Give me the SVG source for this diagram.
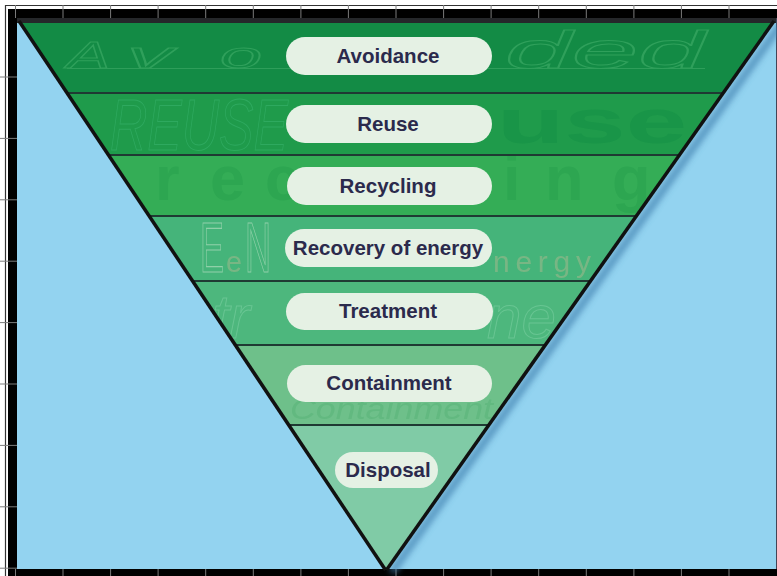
<svg xmlns="http://www.w3.org/2000/svg" width="777" height="576" viewBox="0 0 777 576">
<style>
.pill{fill:#E5F1E4}
.lbl{font-family:"Liberation Sans",Arial,sans-serif;font-weight:bold;font-size:20.5px;fill:#2B2A4C;text-anchor:middle}
.div{stroke:#1F3A33;stroke-width:2}
.wm{font-family:"Liberation Sans",Arial,sans-serif}
.tick{stroke:#7A7A7A;stroke-width:1}
</style>
<defs>
<clipPath id="tri"><polygon points="19,22 774,22 386,570"/></clipPath>
<filter id="blur" x="-20%" y="-20%" width="140%" height="140%"><feGaussianBlur stdDeviation="3"/></filter>
<filter id="soft" x="-10%" y="-30%" width="120%" height="160%"><feGaussianBlur stdDeviation="0.7"/></filter>
</defs>
<rect width="777" height="576" fill="#FFFFFF"/>
<g id="frame">
<line x1="5" y1="5.5" x2="777" y2="5.5" stroke="#333" stroke-width="1.2"/>
<line x1="5.5" y1="5" x2="5.5" y2="576" stroke="#333" stroke-width="1.2"/>
<rect x="8" y="9" width="769" height="567" fill="#000"/>
<rect x="17" y="18" width="759" height="551" fill="#93D3F0"/>
<line x1="776.5" y1="18" x2="776.5" y2="569" stroke="#445" stroke-width="1"/>
<g class="tick">
<line x1="15.5" y1="5" x2="15.5" y2="18"/><line x1="63" y1="5" x2="63" y2="18"/><line x1="110.6" y1="5" x2="110.6" y2="18"/><line x1="158.1" y1="5" x2="158.1" y2="18"/><line x1="205.7" y1="5" x2="205.7" y2="18"/><line x1="253.3" y1="5" x2="253.3" y2="18"/><line x1="300.9" y1="5" x2="300.9" y2="18"/><line x1="348.4" y1="5" x2="348.4" y2="18"/><line x1="396" y1="5" x2="396" y2="18"/><line x1="443.6" y1="5" x2="443.6" y2="18"/><line x1="491.1" y1="5" x2="491.1" y2="18"/><line x1="538.7" y1="5" x2="538.7" y2="18"/><line x1="586.3" y1="5" x2="586.3" y2="18"/><line x1="633.9" y1="5" x2="633.9" y2="18"/><line x1="681.4" y1="5" x2="681.4" y2="18"/><line x1="729" y1="5" x2="729" y2="18"/>
<line x1="15.5" y1="569" x2="15.5" y2="576"/><line x1="63" y1="569" x2="63" y2="576"/><line x1="110.6" y1="569" x2="110.6" y2="576"/><line x1="158.1" y1="569" x2="158.1" y2="576"/><line x1="205.7" y1="569" x2="205.7" y2="576"/><line x1="253.3" y1="569" x2="253.3" y2="576"/><line x1="300.9" y1="569" x2="300.9" y2="576"/><line x1="348.4" y1="569" x2="348.4" y2="576"/><line x1="396" y1="569" x2="396" y2="576"/><line x1="443.6" y1="569" x2="443.6" y2="576"/><line x1="491.1" y1="569" x2="491.1" y2="576"/><line x1="538.7" y1="569" x2="538.7" y2="576"/><line x1="586.3" y1="569" x2="586.3" y2="576"/><line x1="633.9" y1="569" x2="633.9" y2="576"/><line x1="681.4" y1="569" x2="681.4" y2="576"/><line x1="729" y1="569" x2="729" y2="576"/>
<line x1="0" y1="77" x2="17" y2="77"/><line x1="0" y1="138.4" x2="17" y2="138.4"/><line x1="0" y1="199.8" x2="17" y2="199.8"/><line x1="0" y1="261.2" x2="17" y2="261.2"/><line x1="0" y1="322.6" x2="17" y2="322.6"/><line x1="0" y1="384" x2="17" y2="384"/><line x1="0" y1="445.4" x2="17" y2="445.4"/><line x1="0" y1="506.8" x2="17" y2="506.8"/><line x1="0" y1="568.2" x2="17" y2="568.2"/>
</g>
</g>
<line x1="781" y1="24" x2="392" y2="572" stroke="#3F7FAE" stroke-width="7" opacity="0.75" filter="url(#blur)"/>
<g id="band-avoidance">
<polygon points="19,22 774,22 723.7,93 66.4,93" fill="#138B45"/>
</g>
<g id="band-reuse">
<polygon points="66.4,93 723.7,93 679.8,155 107.8,155" fill="#1F9B4B"/>
</g>
<g id="band-recycling">
<polygon points="107.8,155 679.8,155 636.6,216 148.6,216" fill="#34AD56"/>
</g>
<g id="band-recovery">
<polygon points="148.6,216 636.6,216 590.6,281 192,281" fill="#45B47A"/>
</g>
<g id="band-treatment">
<polygon points="192,281 590.6,281 545.3,345 234.8,345" fill="#4DB77D"/>
</g>
<g id="band-containment">
<polygon points="234.8,345 545.3,345 488.7,425 288.2,425" fill="#6EC08A"/>
</g>
<g id="band-disposal">
<polygon points="288.2,425 488.7,425 386,570" fill="#80CBA6"/>
</g>
<g id="watermarks" clip-path="url(#tri)" class="wm">
<line x1="67" y1="68.5" x2="705" y2="68.5" stroke="#2E9E5A" stroke-width="1"/>
<g fill="none" stroke="#2FA05B" stroke-width="1" font-style="italic">
<text x="67" y="68" font-size="37" textLength="43" lengthAdjust="spacingAndGlyphs">A</text>
<text x="127" y="68" font-size="37" textLength="46" lengthAdjust="spacingAndGlyphs">v</text>
<text x="220" y="68" font-size="37" textLength="42" lengthAdjust="spacingAndGlyphs">o</text>
<text x="505" y="68" font-size="52" textLength="200" lengthAdjust="spacingAndGlyphs">ded</text>
</g>
<text x="110" y="150" font-size="72" font-style="italic" fill="none" stroke="#2EA95F" stroke-width="1" textLength="178" lengthAdjust="spacingAndGlyphs">REUSE</text>
<text x="497" y="143" font-size="63" font-weight="bold" fill="#199548" textLength="190" lengthAdjust="spacingAndGlyphs">use</text>
<text y="200" font-size="63" font-weight="bold" fill="#2DA651"><tspan x="155">r</tspan><tspan x="210">e</tspan><tspan x="265">c</tspan><tspan x="503">i</tspan><tspan x="545">n</tspan><tspan x="612">g</tspan></text>
<g fill="none" stroke="#8FD0A8" stroke-width="1.1" font-size="70">
<text x="200" y="272" textLength="24" lengthAdjust="spacingAndGlyphs">E</text>
<text x="245" y="272" textLength="26" lengthAdjust="spacingAndGlyphs">N</text>
</g>
<g fill="#9CB88B" opacity="0.6" font-size="30">
<text x="226" y="272" textLength="16" lengthAdjust="spacingAndGlyphs">e</text>
<text x="493" y="272" textLength="98" lengthAdjust="spacing">nergy</text>
</g>
<g fill="none" stroke="#68C592" stroke-width="1" font-size="62" font-style="italic">
<text x="212" y="338">tr</text>
<text x="487" y="338">ne</text>
</g>
<text x="290" y="419" font-size="30" font-style="italic" fill="#5BB47A" opacity="0.6" textLength="203" lengthAdjust="spacingAndGlyphs">Containment</text>
</g>
<g id="dividers">
<line class="div" x1="66.4" y1="93" x2="723.7" y2="93"/>
<line class="div" x1="107.8" y1="155" x2="679.8" y2="155"/>
<line class="div" x1="148.6" y1="216" x2="636.6" y2="216"/>
<line class="div" x1="192" y1="281" x2="590.6" y2="281"/>
<line class="div" x1="234.8" y1="345" x2="545.3" y2="345"/>
<line class="div" x1="288.2" y1="425" x2="488.7" y2="425"/>
</g>
<g id="outline">
<rect x="17" y="18" width="759" height="5" fill="#25272A"/>
<line x1="19" y1="21" x2="385.5" y2="570" stroke="#111" stroke-width="3.5"/>
<line x1="774" y1="21" x2="386.5" y2="570" stroke="#111" stroke-width="3.5"/>
</g>
<g id="node-avoidance"><rect class="pill" x="286" y="37" width="206" height="38" rx="19" filter="url(#soft)"/><text class="lbl" x="388" y="63">Avoidance</text></g>
<g id="node-reuse"><rect class="pill" x="286" y="105" width="206" height="38" rx="19" filter="url(#soft)"/><text class="lbl" x="388" y="131">Reuse</text></g>
<g id="node-recycling"><rect class="pill" x="287" y="167" width="205" height="38" rx="19" filter="url(#soft)"/><text class="lbl" x="388" y="193">Recycling</text></g>
<g id="node-recovery"><rect class="pill" x="285" y="229" width="207" height="38" rx="19" filter="url(#soft)"/><text class="lbl" x="388" y="255">Recovery of energy</text></g>
<g id="node-treatment"><rect class="pill" x="286" y="293" width="207" height="37" rx="18.5" filter="url(#soft)"/><text class="lbl" x="388" y="318">Treatment</text></g>
<g id="node-containment"><rect class="pill" x="287" y="365" width="205" height="37" rx="18.5" filter="url(#soft)"/><text class="lbl" x="389" y="390">Containment</text></g>
<g id="node-disposal"><rect class="pill" x="335" y="452" width="103" height="36" rx="18" filter="url(#soft)"/><text class="lbl" x="388" y="477">Disposal</text></g>
</svg>
